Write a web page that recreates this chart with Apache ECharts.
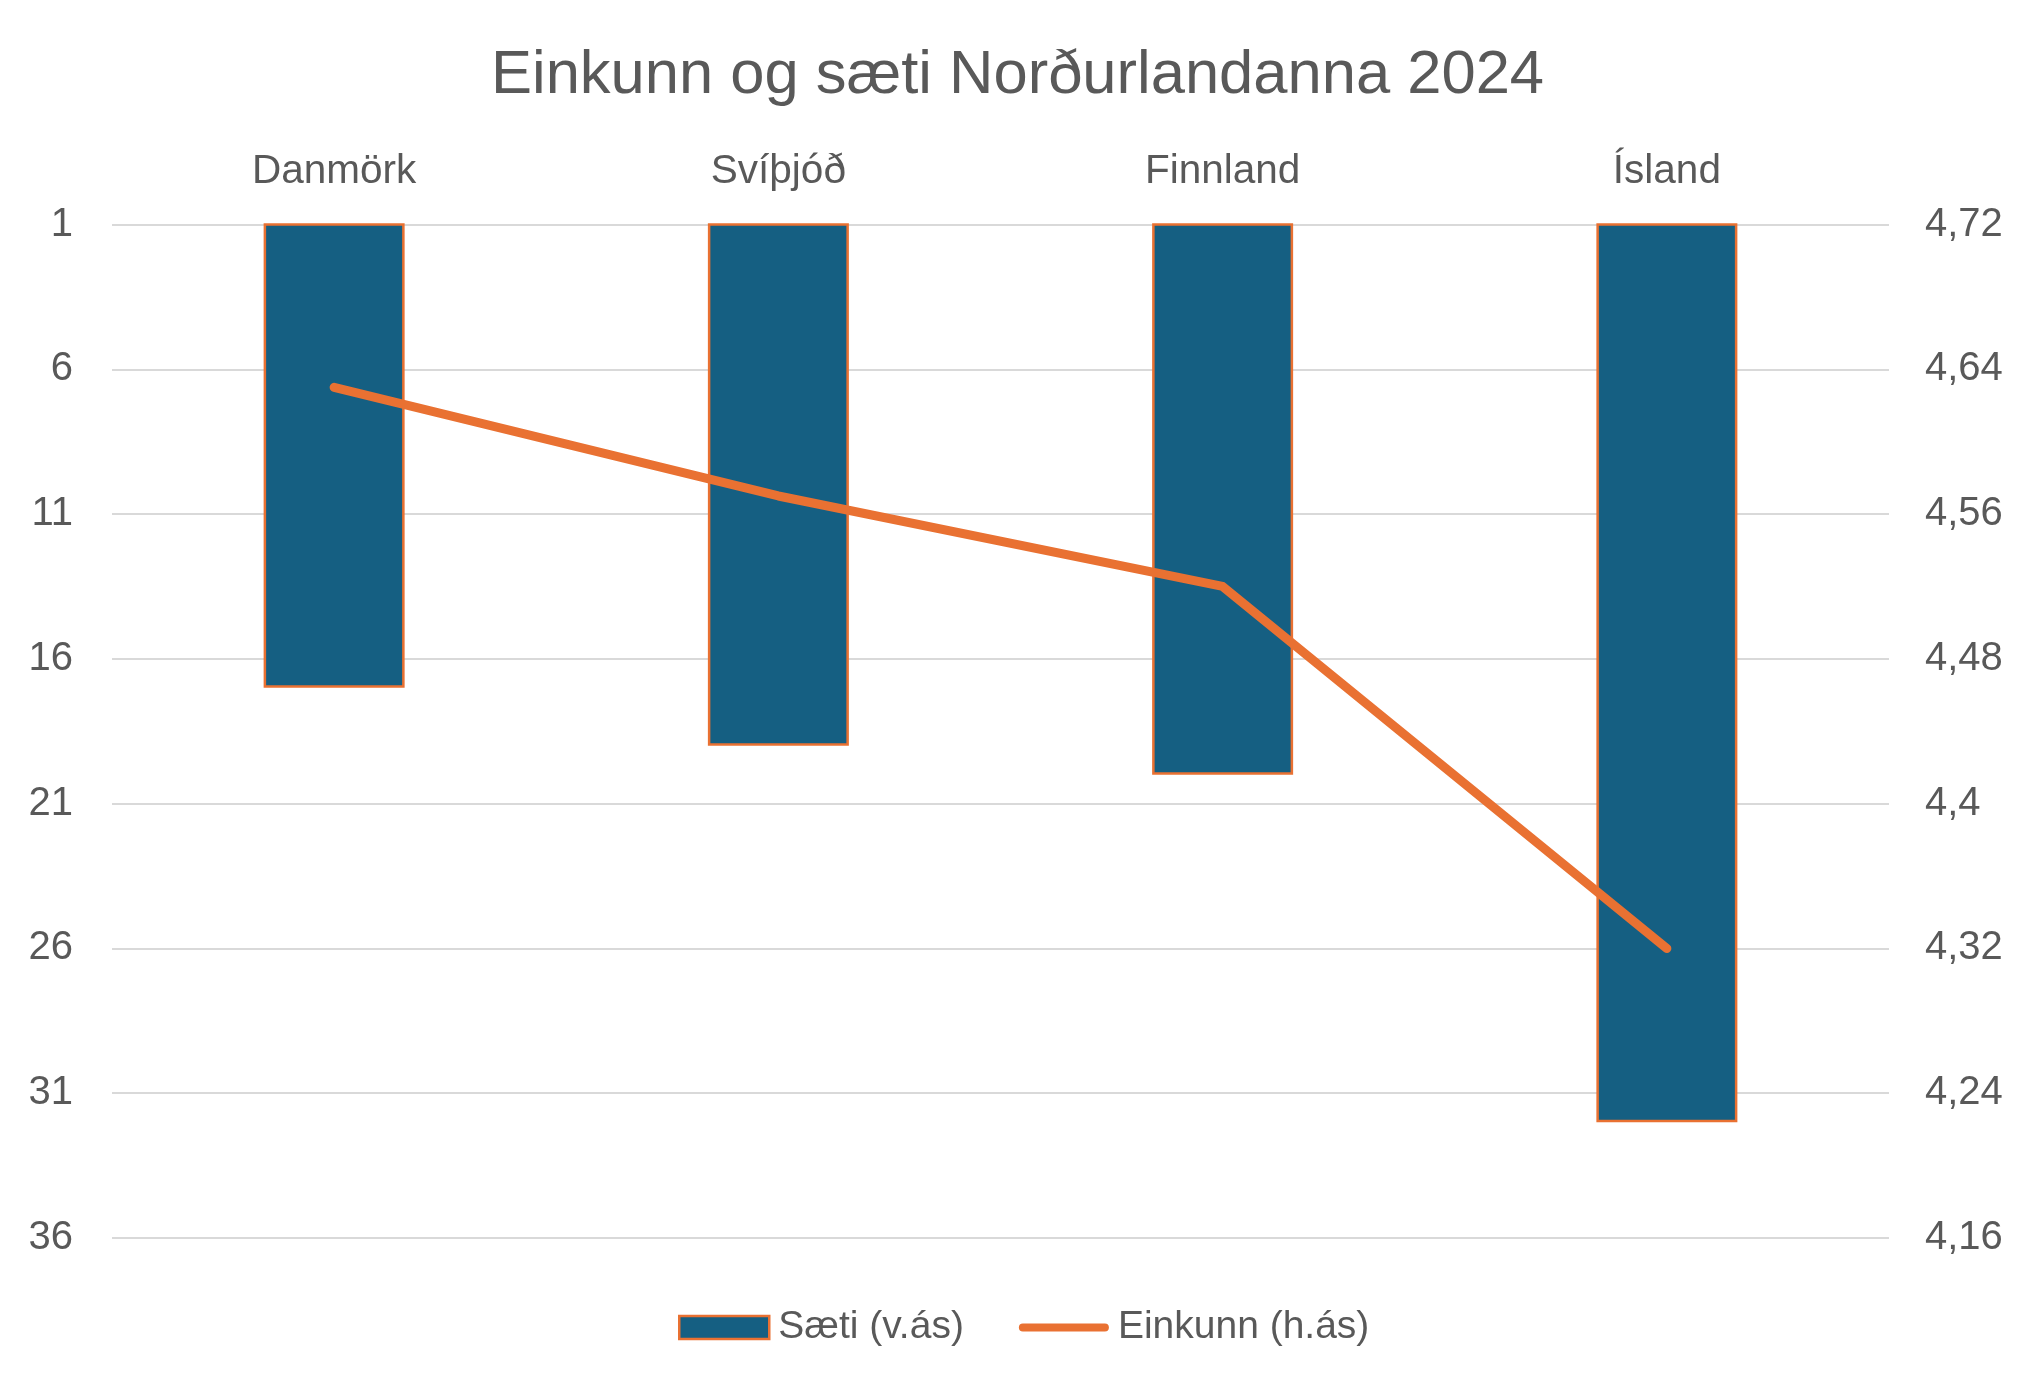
<!DOCTYPE html>
<html><head><meta charset="utf-8">
<script src="https://cdn.jsdelivr.net/npm/echarts@6/dist/echarts.min.js"></script>
<style>html,body{margin:0;padding:0;background:#fff}#c{width:2035px;height:1394px}</style>
</head><body><div id="c"></div>
<script>
const categories = ['Danmörk', 'Svíþjóð', 'Finnland', 'Ísland'];
const saeti = [17, 19, 20, 32];
const einkunn = [4.63, 4.57, 4.52, 4.32];
const titleText = 'Einkunn og sæti Norðurlandanna 2024';
const font = "'Liberation Sans', Arial, sans-serif";
const txt = '#595959';
const chart = echarts.init(document.getElementById('c'));
chart.setOption({
  animation: false,
  backgroundColor: '#fff',
  title: { text: titleText, left: 'center', top: 40,
    textStyle: { fontFamily: font, fontSize: 61.5, fontWeight: 'normal', color: txt } },
  legend: { bottom: 42, left: 673, itemWidth: 90, itemHeight: 23, itemGap: 55,
    textStyle: { fontFamily: font, fontSize: 39, color: txt, padding: [0,0,0,4] },
    data: [
      { name: 'Sæti (v.ás)', icon: 'rect', itemStyle: { color: '#155F82', borderColor: '#E97132', borderWidth: 2.5 } },
      { name: 'Einkunn (h.ás)', icon: 'path://M4,0 L86,0 A4,4 0 0 1 86,8 L4,8 A4,4 0 0 1 4,0 Z',
        itemStyle: { color: '#E97132', borderWidth: 0 } }
    ] },
  grid: { left: 112, right: 146, top: 224.5, bottom: 156 },
  xAxis: { type: 'category', position: 'top', data: categories,
    axisLine: { show: false }, axisTick: { show: false },
    axisLabel: { fontFamily: font, fontSize: 40.5, color: txt, margin: 32 } },
  yAxis: [
    { type: 'value', inverse: true, min: 1, max: 36, interval: 5,
      axisLine: { show: false }, axisTick: { show: false },
      splitLine: { lineStyle: { color: '#D9D9D9', width: 2 } },
      axisLabel: { fontFamily: font, fontSize: 40, color: txt, margin: 39 } },
    { type: 'value', min: 4.16, max: 4.72, interval: 0.08,
      axisLine: { show: false }, axisTick: { show: false }, splitLine: { show: false },
      axisLabel: { fontFamily: font, fontSize: 40, color: txt, margin: 36,
        formatter: v => String(+v.toFixed(2)).replace('.', ',') } }
  ],
  series: [
    { name: 'Sæti (v.ás)', type: 'bar', yAxisIndex: 0, data: saeti, barWidth: 141, clip: true,
      itemStyle: { color: '#155F82', borderColor: '#E97132', borderWidth: 2.5 } },
    { name: 'Einkunn (h.ás)', type: 'line', yAxisIndex: 1, data: einkunn, symbol: 'none',
      lineStyle: { color: '#E97132', width: 9, cap: 'round', join: 'round' },
      itemStyle: { color: '#E97132' } }
  ]
});
</script></body></html>
